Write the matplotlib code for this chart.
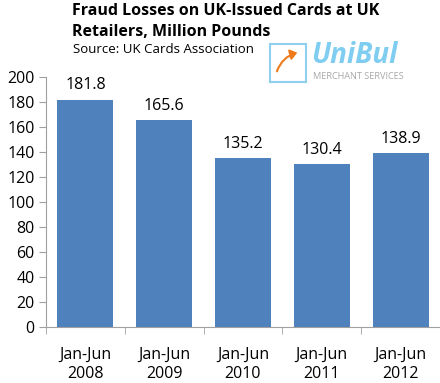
import matplotlib
matplotlib.use("Agg")
import matplotlib.pyplot as plt
from matplotlib.patches import Rectangle, FancyArrowPatch

categories = ["Jan-Jun\n2008", "Jan-Jun\n2009", "Jan-Jun\n2010", "Jan-Jun\n2011", "Jan-Jun\n2012"]
values = [181.8, 165.6, 135.2, 130.4, 138.9]
yticks = [0, 20, 40, 60, 80, 100, 120, 140, 160, 180, 200]

plt.rcParams['font.family'] = ['Open Sans', 'DejaVu Sans']

fig = plt.figure(figsize=(4.4, 3.83), dpi=100)
ax = fig.add_axes([0.1045, 0.146, 0.8955, 0.653])

x = list(range(len(values)))
ax.bar(x, values, width=0.71, color="#4f81bd", zorder=2)
for xi, v in zip(x, values):
    ax.text(xi, v + 5, f"{v:.1f}", ha="center", va="bottom", fontsize=11.5, color="black")

ax.set_xlim(-0.5, len(values) - 0.5)
ax.set_ylim(0, 200)
ax.set_yticks(yticks)
ax.set_yticklabels([str(t) for t in yticks], fontsize=11.5)
ax.set_xticks(x)
ax.set_xticklabels(categories, fontsize=11.5, linespacing=1.25)
ax.tick_params(axis='x', length=0, pad=14)
ax.set_xticks([i - 0.5 for i in range(len(values) + 1)], minor=True)
ax.tick_params(axis='x', which='minor', length=5, color="#a0a0a0")
ax.tick_params(axis='y', length=5, color="#a0a0a0", pad=3)
for s in ["top", "right"]:
    ax.spines[s].set_visible(False)
for s in ["left", "bottom"]:
    ax.spines[s].set_color("#a0a0a0")

fig.text(72/440, 1 - 3/383, "Fraud Losses on UK-Issued Cards at UK\nRetailers, Million Pounds",
         ha="left", va="top", fontsize=11.5, fontweight="bold", linespacing=1.4)
fig.text(73/440, 1 - 43/383, "Source: UK Cards Association", ha="left", va="top", fontsize=9.5)

# logo
fig.patches.append(Rectangle((270/440, 1 - 82/383), 36/440, 38/383, transform=fig.transFigure,
                             fill=False, edgecolor="#8fd0f0", linewidth=1.5))
fig.patches.append(FancyArrowPatch((276/440, 1 - 74/383), (300/440, 1 - 52/383), transform=fig.transFigure,
                                   connectionstyle="arc3,rad=-0.3", arrowstyle="-|>,head_length=4,head_width=3",
                                   color="#f07a1a", linewidth=1.5))
fig.text(311/440, 1 - 41/383, "UniBul", ha="left", va="top", fontsize=20, fontweight="bold",
         style="italic", color="#7fcdf0")
fig.text(313/440, 1 - 72/383, "MERCHANT SERVICES", ha="left", va="top", fontsize=6.6, color="#a8a8a8")

fig.savefig("out.png", dpi=100)
